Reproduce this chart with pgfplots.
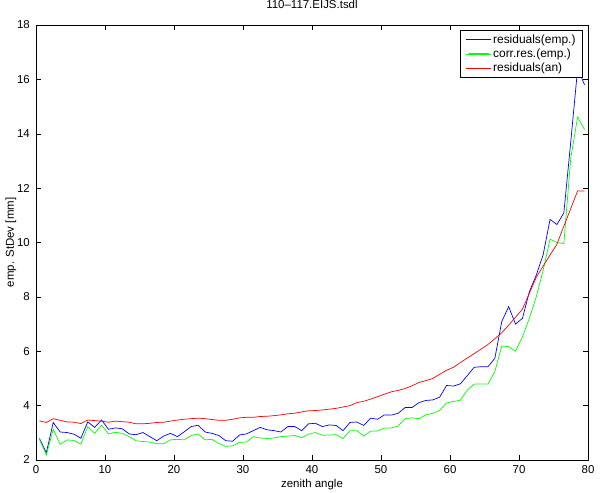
\documentclass[border=0pt]{standalone}
\usepackage{fontspec}
\setmainfont{Liberation Sans}
\usepackage{pgfplots}
\pgfplotsset{compat=1.18}
\usepackage{pgfplotstable}

\pgfplotstableread{
x b g r
0.5 2.79 2.76 3.44
1.5 2.27 2.18 3.38
2.5 3.38 3.13 3.52
3.5 3.03 2.58 3.46
4.5 3.01 2.74 3.40
5.5 2.95 2.72 3.39
6.5 2.80 2.58 3.34
7.5 3.40 3.23 3.47
8.5 3.20 2.98 3.45
9.5 3.47 3.28 3.43
10.5 3.13 2.96 3.39
11.5 3.18 3.02 3.43
12.5 3.15 2.98 3.41
13.5 2.96 2.86 3.39
14.5 2.93 2.71 3.33
15.5 3.01 2.68 3.33
16.5 2.86 2.66 3.35
17.5 2.71 2.60 3.38
18.5 2.88 2.60 3.39
19.5 2.98 2.74 3.43
20.5 2.86 2.76 3.47
21.5 3.04 2.74 3.50
22.5 3.23 2.90 3.52
23.5 3.28 2.96 3.54
24.5 3.03 2.74 3.52
25.5 2.98 2.76 3.49
26.5 2.90 2.61 3.46
27.5 2.71 2.50 3.46
28.5 2.69 2.52 3.50
29.5 2.92 2.65 3.55
30.5 2.96 2.66 3.57
31.5 3.08 2.86 3.57
32.5 3.20 2.81 3.60
33.5 3.11 2.79 3.61
34.5 3.08 2.81 3.63
35.5 3.03 2.86 3.66
36.5 3.23 2.88 3.70
37.5 3.23 2.90 3.72
38.5 3.08 2.82 3.77
39.5 3.33 2.95 3.81
40.5 3.35 3.01 3.82
41.5 3.23 2.91 3.84
42.5 3.29 2.92 3.87
43.5 3.27 2.93 3.90
44.5 3.08 2.79 3.95
45.5 3.38 3.08 4.00
46.5 3.40 3.08 4.11
47.5 3.27 2.88 4.16
48.5 3.54 3.06 4.24
49.5 3.50 3.07 4.33
50.5 3.66 3.17 4.42
51.5 3.65 3.18 4.51
52.5 3.72 3.25 4.56
53.5 3.93 3.52 4.63
54.5 3.93 3.55 4.73
55.5 4.11 3.52 4.85
56.5 4.19 3.66 4.92
57.5 4.21 3.72 5.00
58.5 4.31 3.82 5.15
59.5 4.74 4.10 5.30
60.5 4.72 4.15 5.41
61.5 4.80 4.20 5.58
62.5 5.10 4.57 5.75
63.5 5.41 4.79 5.91
64.5 5.43 4.80 6.08
65.5 5.43 4.79 6.25
66.5 5.74 5.25 6.46
67.5 7.09 6.19 6.68
68.5 7.64 6.17 6.96
69.5 7.00 6.00 7.25
70.5 7.21 6.53 7.55
71.5 8.19 7.21 8.13
72.5 8.80 8.00 8.72
73.5 9.55 8.98 9.13
74.5 10.85 10.12 9.54
75.5 10.66 10.00 9.94
76.5 11.09 9.96 10.60
77.5 13.70 13.10 11.25
78.5 16.40 14.62 11.90
79.5 15.80 14.15 11.89
}\data

\begin{document}
\begin{tikzpicture}
\path[use as bounding box] (0,0) rectangle (600bp,493bp);
\begin{axis}[
  at={(36bp,33bp)}, anchor=south west,
  width=552bp, height=435bp, scale only axis,
  xmin=0, xmax=80, ymin=2, ymax=18,
  xtick={0,10,...,80}, ytick={2,4,...,18},
  tick align=inside, major tick length=5bp,
  tick style={black, line width=0.4bp},
  axis line style={black, line width=0.8bp},
  /pgf/number format/assume math mode=true,
  ticklabel style={font=\fontsize{11.5}{13}\selectfont},
  xticklabel style={anchor=base, inner sep=0pt, yshift=-13.3bp},
  yticklabel style={anchor=east, inner sep=0pt, xshift=-6bp},
  title={110--117.EIJS.tsdl},
  title style={at={(axis description cs:0.5,1.0253)}, anchor=base, inner sep=0pt, font=\fontsize{11.5}{13}\selectfont},
  xlabel={zenith angle},
  xlabel style={at={(axis description cs:0.5,-0.0637)}, anchor=base, inner sep=0pt, font=\fontsize{11.5}{13}\selectfont},
  ylabel={emp. StDev [mm]},
  ylabel style={at={(axis description cs:-0.0399,0.5)}, anchor=base, inner sep=0pt, font=\fontsize{11.5}{13}\selectfont},
  legend style={at={(axis description cs:0.9904,0.9885)}, anchor=north east,
    draw, fill=white, inner xsep=5bp, inner ysep=2.5bp, row sep=0bp,
    font=\fontsize{12}{14}\selectfont},
  legend image code/.code={\path (0bp,0bp) -- (25bp,0bp); \draw[#1, line width=0.9bp] (3bp,0bp) -- (23bp,0bp);},
  legend cell align=left,
]
\addplot[blue, line width=0.7bp] table[x=x, y=b] {\data};
\addlegendentry{residuals(emp.)}
\addplot[green, line width=0.7bp] table[x=x, y=g] {\data};
\addlegendentry{corr.res.(emp.)}
\addplot[red, line width=0.7bp] table[x=x, y=r] {\data};
\addlegendentry{residuals(an)}
\end{axis}
\end{tikzpicture}
\end{document}
